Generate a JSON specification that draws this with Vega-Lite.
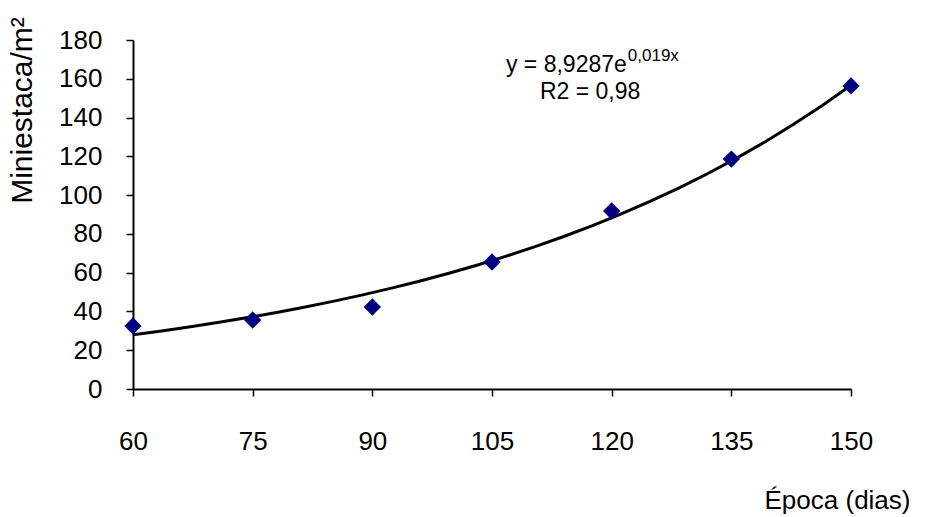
{
  "$schema": "https://vega.github.io/schema/vega-lite/v6.json",
  "width": 718,
  "height": 349,
  "autosize": "none",
  "padding": {"left": 133, "top": 40, "right": 75, "bottom": 128},
  "background": "white",
  "config": {
    "view": {"stroke": null},
    "font": "Liberation Sans",
    "axis": {"grid": false, "domainColor": "black", "tickColor": "black", "labelColor": "black", "titleColor": "black", "labelFont": "Liberation Sans", "titleFont": "Liberation Sans", "titleFontWeight": "normal", "domainWidth": 2, "tickWidth": 1.5, "labelOverlap": false, "labelFlush": false, "labelBound": false}
  },
  "datasets": {
    "pts": [
      {"Epoca": 60, "Miniestaca": 32.5},
      {"Epoca": 75, "Miniestaca": 35.6},
      {"Epoca": 90, "Miniestaca": 42.3},
      {"Epoca": 105, "Miniestaca": 65.5},
      {"Epoca": 120, "Miniestaca": 91.8},
      {"Epoca": 135, "Miniestaca": 118.6},
      {"Epoca": 150, "Miniestaca": 156.3}
    ],
    "ann": [
      {"Epoca": 121.9, "Miniestaca": 167.1, "main": "y = 8,9287e", "sup": "0,019x", "r2": "R2 = 0,98", "r2y": 153.2, "r2x": 117.3}
    ]
  },
  "layer": [
    {
      "data": {"name": "pts"},
      "transform": [{"regression": "Miniestaca", "on": "Epoca", "method": "exp"}],
      "mark": {"type": "line", "color": "black", "strokeWidth": 3},
      "encoding": {
        "x": {"field": "Epoca", "type": "quantitative", "scale": {"domain": [60, 150]},
          "axis": {"values": [60, 75, 90, 105, 120, 135, 150], "title": "Época (dias)", "labelFontSize": 26, "tickSize": 7, "labelPadding": 32, "titleFontSize": 26, "titleAnchor": "end", "titleAlign": "right", "titleX": 777, "titleY": 98, "titleBaseline": "top"}},
        "y": {"field": "Miniestaca", "type": "quantitative", "scale": {"domain": [0, 180]},
          "axis": {"values": [0, 20, 40, 60, 80, 100, 120, 140, 160, 180], "tickCount": 10, "title": "Miniestaca/m²", "labelFontSize": 26, "tickSize": 7, "labelPadding": 24, "titleFontSize": 30, "titleAngle": -90, "titleX": -111, "titleY": 70, "titleAlign": "center", "titleBaseline": "middle"}}
      }
    },
    {
      "data": {"name": "pts"},
      "mark": {"type": "point", "shape": "diamond", "filled": true, "color": "#000080", "size": 300, "opacity": 1},
      "encoding": {
        "x": {"field": "Epoca", "type": "quantitative"},
        "y": {"field": "Miniestaca", "type": "quantitative"}
      }
    },
    {
      "data": {"name": "ann"},
      "mark": {"type": "text", "align": "right", "baseline": "middle", "fontSize": 23, "color": "black"},
      "encoding": {
        "x": {"field": "Epoca", "type": "quantitative"},
        "y": {"field": "Miniestaca", "type": "quantitative"},
        "text": {"field": "main"}
      }
    },
    {
      "data": {"name": "ann"},
      "mark": {"type": "text", "align": "left", "baseline": "middle", "fontSize": 17, "dy": -9, "dx": 1, "color": "black"},
      "encoding": {
        "x": {"field": "Epoca", "type": "quantitative"},
        "y": {"field": "Miniestaca", "type": "quantitative"},
        "text": {"field": "sup"}
      }
    },
    {
      "data": {"name": "ann"},
      "mark": {"type": "text", "align": "center", "baseline": "middle", "fontSize": 23, "color": "black"},
      "encoding": {
        "x": {"field": "r2x", "type": "quantitative"},
        "y": {"field": "r2y", "type": "quantitative"},
        "text": {"field": "r2"}
      }
    }
  ]
}
